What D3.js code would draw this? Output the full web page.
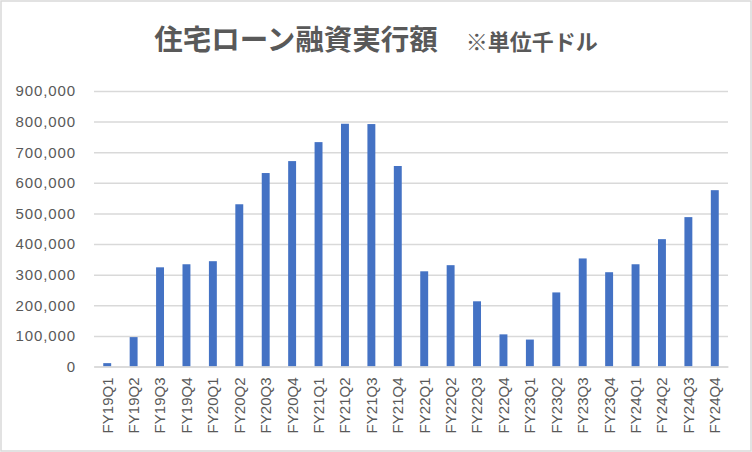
<!DOCTYPE html>
<html>
<head>
<meta charset="utf-8">
<script src="https://cdn.jsdelivr.net/npm/d3@7"></script>
<style>
  body { margin: 0; background: #fff; }
  svg { display: block; }
</style>
</head>
<body>
<svg id="chart" width="752" height="452"></svg>
<script>
// quarters and loan amounts (thousand dollars)
var quarters = ["FY19Q1", "FY19Q2", "FY19Q3", "FY19Q4",
                "FY20Q1", "FY20Q2", "FY20Q3", "FY20Q4",
                "FY21Q1", "FY21Q2", "FY21Q3", "FY21Q4",
                "FY22Q1", "FY22Q2", "FY22Q3", "FY22Q4",
                "FY23Q1", "FY23Q2", "FY23Q3", "FY23Q4",
                "FY24Q1", "FY24Q2", "FY24Q3", "FY24Q4"];
var amounts = [11000, 96000, 324000, 334000,
               344000, 530000, 632000, 671000,
               733000, 793000, 792000, 655000,
               311000, 331000, 213000, 105000,
               88000, 242000, 353000, 308000,
               334000, 416000, 488000, 576000];
var yTicks = [0, 100000, 200000, 300000, 400000, 500000, 600000, 700000, 800000, 900000];

var width = 752,
    height = 452,
    margin = { top: 91, right: 24, bottom: 85.5, left: 94 };

var textColor = "#595959",
    gridColor = "#d9d9d9",
    barColor = "#4472c4";

var svg = d3.select("#chart");

// outer frame
svg.append("rect")
    .attr("x", 1).attr("y", 1)
    .attr("width", width - 2).attr("height", height - 2)
    .attr("fill", "#fff")
    .attr("stroke", gridColor)
    .attr("stroke-width", 1.5);

var x = d3.scaleBand()
    .domain(quarters)
    .range([margin.left, width - margin.right])
    .paddingInner(0.7)
    .paddingOuter(0.35);

var y = d3.scaleLinear()
    .domain([0, 900000])
    .range([height - margin.bottom, margin.top]);

// y axis with gridlines
var yAxis = svg.append("g")
    .attr("transform", "translate(" + margin.left + ",0)")
    .call(d3.axisLeft(y)
        .tickValues(yTicks)
        .tickSize(-(width - margin.left - margin.right))
        .tickPadding(18)
        .tickFormat(d3.format(",")));

yAxis.select(".domain").remove();
yAxis.selectAll(".tick line")
    .attr("stroke", gridColor)
    .attr("stroke-width", 1.5);
yAxis.selectAll(".tick text")
    .attr("fill", textColor)
    .style("font-family", "'Liberation Sans', Arial, sans-serif")
    .style("font-size", "15px")
    .style("letter-spacing", "0.9px");

// bars
svg.append("g")
    .selectAll("rect")
    .data(amounts)
    .join("rect")
    .attr("x", function (d, i) { return x(quarters[i]); })
    .attr("y", function (d) { return y(d); })
    .attr("width", x.bandwidth())
    .attr("height", function (d) { return y(0) - y(d); })
    .attr("fill", barColor);

// x axis, labels turned upright
var xAxis = svg.append("g")
    .attr("transform", "translate(0," + y(0) + ")")
    .call(d3.axisBottom(x).tickSize(0));

xAxis.select(".domain")
    .attr("stroke", gridColor)
    .attr("stroke-width", 1.5);
xAxis.selectAll(".tick text")
    .attr("fill", textColor)
    .attr("text-anchor", "end")
    .attr("transform", "translate(0,11) rotate(-90)")
    .attr("x", 0)
    .attr("y", 0)
    .attr("dy", "0.36em")
    .style("font-family", "'Liberation Sans', Arial, sans-serif")
    .style("font-size", "15px");

// title
var title = svg.append("text")
    .attr("x", width / 2)
    .attr("y", 50)
    .attr("text-anchor", "middle")
    .attr("fill", textColor)
    .style("font-family", "'Noto Sans CJK JP', sans-serif")
    .style("font-weight", "bold");

title.append("tspan")
    .style("font-size", "28.5px")
    .text("住宅ローン融資実行額");
title.append("tspan")
    .attr("dx", 28)
    .style("font-size", "22px")
    .text("※単位千ドル");
</script>
</body>
</html>
